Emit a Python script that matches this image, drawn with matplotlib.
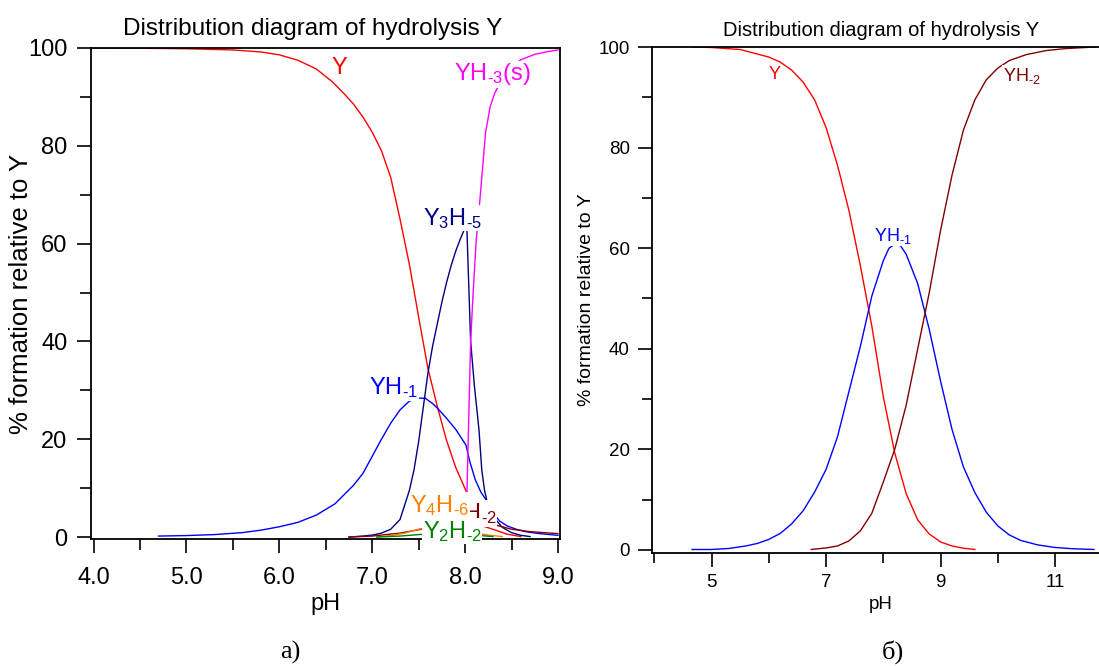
import numpy as np
import matplotlib
matplotlib.use("Agg")
import matplotlib.pyplot as plt
from matplotlib.ticker import MultipleLocator

plt.rcParams['font.family'] = ['Liberation Sans', 'DejaVu Sans']
plt.rcParams['mathtext.fontset'] = 'custom'
plt.rcParams['mathtext.rm'] = 'Liberation Sans'
plt.rcParams['mathtext.it'] = 'Liberation Sans'

# ---- panel a) data (read off the picture) ----
ph_y = [4.0, 4.5, 5.0, 5.5, 5.8, 6.0, 6.2, 6.4, 6.57, 6.7, 6.8, 6.9, 7.0, 7.1, 7.2, 7.3,
        7.4, 7.5, 7.6, 7.7, 7.8, 7.9, 8.02, 8.04, 8.2, 8.33, 8.45, 8.6]
val_y = [100, 99.95, 99.85, 99.6, 99.2, 98.6, 97.5, 95.7, 93.1, 90.6, 88.5, 85.9, 82.8, 79.0,
         73.5, 65.0, 55.8, 45.0, 34.5, 26.8, 19.8, 14.2, 9.0, 3.5, 2.2, 1.4, 0.6, 0.1]

ph_yh1 = [4.7, 5.0, 5.3, 5.6, 5.8, 6.0, 6.2, 6.4, 6.6, 6.8, 6.9, 7.0, 7.1, 7.2, 7.3, 7.4,
          7.5, 7.57, 7.65, 7.7, 7.8, 7.9, 8.01, 8.05, 8.11, 8.17, 8.24, 8.3, 8.37, 8.45,
          8.55, 8.65, 8.8, 9.0]
val_yh1 = [0.2, 0.3, 0.5, 0.9, 1.4, 2.1, 3.0, 4.5, 6.8, 10.6, 13.0, 16.5, 20.0, 23.3, 26.0,
           27.8, 28.4, 28.4, 27.3, 26.4, 24.3, 22.0, 18.8, 15.5, 11.7, 9.2, 7.2, 5.0, 3.3,
           2.3, 1.6, 1.1, 0.7, 0.35]

ph_y3h5 = [6.75, 6.9, 7.0, 7.1, 7.2, 7.3, 7.4, 7.45, 7.5, 7.55, 7.6, 7.65, 7.7, 7.75, 7.8,
           7.85, 7.9, 7.95, 7.99, 8.02, 8.06, 8.1, 8.15, 8.18, 8.21, 8.24, 8.3, 8.4, 8.5,
           8.6, 8.7]
val_y3h5 = [0.0, 0.2, 0.4, 0.8, 1.6, 3.6, 9.5, 13.7, 19.5, 26.5, 33.5, 39.0, 43.5, 48.0,
            52.0, 55.5, 58.5, 61.0, 62.8, 62.8, 40.0, 31.0, 21.9, 13.7, 9.5, 7.0, 4.2, 2.0,
            0.9, 0.35, 0.1]

ph_yh3s = [8.02, 8.06, 8.09, 8.12, 8.16, 8.22, 8.27, 8.32, 8.45, 8.6, 8.75, 8.9, 9.0]
val_yh3s = [9.0, 40.0, 51.0, 60.7, 69.0, 82.6, 88.0, 90.8, 95.3, 97.6, 98.7, 99.3, 99.6]

ph_yh2a = [6.75, 7.0, 7.3, 7.5, 7.7, 7.9, 8.1, 8.3, 8.5, 8.7, 9.0]
val_yh2a = [0.0, 0.2, 0.8, 1.5, 2.2, 2.8, 3.2, 2.6, 1.6, 1.1, 0.7]

ph_y4h6 = [7.05, 7.2, 7.35, 7.5, 7.7, 7.9, 8.05, 8.25, 8.4]
val_y4h6 = [0.0, 0.3, 0.8, 1.6, 2.5, 3.0, 1.0, 0.4, 0.1]

ph_y2h2 = [7.05, 7.3, 7.5, 7.7, 7.9, 8.1, 8.3]
val_y2h2 = [0.0, 0.2, 0.5, 0.8, 0.9, 0.4, 0.1]

# ---- panel б) data ----
ph_y_b = [4.66, 5.0, 5.5, 6.0, 6.2, 6.4, 6.6, 6.8, 7.0, 7.2, 7.4, 7.6, 7.8, 8.0, 8.2, 8.4,
          8.6, 8.8, 9.0, 9.2, 9.4, 9.6]
val_y_b = [100, 99.9, 99.5, 98.0, 97.0, 95.4, 93.0, 89.5, 84.0, 76.5, 67.5, 56.5, 44.5,
           30.5, 19.3, 11.2, 6.0, 3.2, 1.6, 0.8, 0.35, 0.1]

ph_yh1_b = [4.66, 5.0, 5.3, 5.6, 5.8, 6.0, 6.2, 6.4, 6.6, 6.8, 7.0, 7.2, 7.4, 7.6, 7.8,
            8.0, 8.1, 8.2, 8.3, 8.4, 8.6, 8.8, 9.0, 9.2, 9.4, 9.6, 9.8, 10.0, 10.2, 10.4,
            10.7, 11.0, 11.3, 11.68]
val_yh1_b = [0.1, 0.1, 0.3, 0.8, 1.3, 2.1, 3.3, 5.2, 7.8, 11.5, 16.0, 22.5, 31.5, 40.5,
             50.5, 57.5, 60.0, 60.8, 60.5, 58.8, 53.0, 44.0, 33.6, 24.0, 16.5, 11.4, 7.5,
             4.8, 3.0, 1.9, 1.0, 0.5, 0.25, 0.1]

ph_yh2_b = [6.74, 7.0, 7.2, 7.4, 7.6, 7.8, 8.0, 8.2, 8.4, 8.6, 8.8, 9.0, 9.2, 9.4, 9.6,
            9.8, 10.0, 10.2, 10.5, 10.85, 11.2, 11.7]
val_yh2_b = [0.1, 0.4, 0.8, 1.8, 3.8, 7.3, 13.5, 20.0, 28.8, 39.9, 51.0, 63.5, 74.5, 83.5,
             89.5, 93.5, 95.8, 97.3, 98.5, 99.3, 99.7, 100]

fig = plt.figure(figsize=(10.99, 6.66), dpi=100)

# ---------------- panel a) ----------------
ax1 = fig.add_axes([91 / 1099, 1 - 539 / 666, (560 - 91) / 1099, (539 - 48) / 666])
lw = 1.0
ax1.plot(ph_y, val_y, color='#ff0000', lw=lw)
ax1.plot(ph_yh1, val_yh1, color='#0000ff', lw=lw)
ax1.plot(ph_y3h5, val_y3h5, color='#000080', lw=lw)
ax1.plot(ph_yh3s, val_yh3s, color='#ff00ff', lw=lw)
ax1.plot(ph_yh2a, val_yh2a, color='#800000', lw=lw)
ax1.plot(ph_y4h6, val_y4h6, color='#ff8000', lw=lw)
ax1.plot(ph_y2h2, val_y2h2, color='#008000', lw=lw)

ax1.set_xlim(3.973, 9.022)
ax1.set_ylim(-0.4, 100)
ax1.set_xticks([4, 5, 6, 7, 8, 9])
ax1.set_xticklabels(['4.0', '5.0', '6.0', '7.0', '8.0', '9.0'])
ax1.xaxis.set_minor_locator(MultipleLocator(0.5))
ax1.set_yticks([0, 20, 40, 60, 80, 100])
ax1.yaxis.set_minor_locator(MultipleLocator(10))
ax1.tick_params(which='major', length=10, width=1.2, labelsize=17)
ax1.tick_params(axis='x', which='major', pad=10)
ax1.tick_params(axis='y', which='major', pad=7)
ax1.tick_params(which='minor', length=8, width=1.2)
for s in ax1.spines.values():
    s.set_linewidth(1.3)
ax1.set_xlabel('pH', fontsize=17, labelpad=3)
ax1.set_ylabel('% formation relative to Y', fontsize=18.5, labelpad=-3.5)
ax1.set_title('Distribution diagram of hydrolysis Y', fontsize=17.5, pad=9, x=0.472)

bb = dict(fc='white', ec='none', pad=0.5)
fs = 17
ax1.text(6.65, 95.9, 'Y', color='#ff0000', fontsize=fs, ha='center', va='center', bbox=bb, zorder=5)
ax1.text(8.29, 94.6, r'YH$_{\text{-3}}$(s)', color='#ff00ff', fontsize=fs, ha='center', va='center', bbox=bb, zorder=5)
ax1.text(7.86, 65.2, r'Y$_{\text{3}}$H$_{\text{-5}}$', color='#000080', fontsize=fs, ha='center', va='center', bbox=bb, zorder=5)
ax1.text(7.23, 30.5, r'YH$_{\text{-1}}$', color='#0000ff', fontsize=fs, ha='center', va='center', bbox=bb, zorder=5)
ax1.text(8.34, 4.8, r'YH$_{\text{-2}}$', color='#800000', fontsize=fs, ha='right', va='center', bbox=bb, zorder=5)
ax1.text(7.73, 6.5, r'Y$_{\text{4}}$H$_{\text{-6}}$', color='#ff8000', fontsize=fs, ha='center', va='center', bbox=bb, zorder=6)
ax1.text(7.86, 1.2, r'Y$_{\text{2}}$H$_{\text{-2}}$', color='#008000', fontsize=fs, ha='center', va='center', bbox=bb, zorder=7)

# ---------------- panel б) ----------------
ax2 = fig.add_axes([652 / 1099, 1 - 553 / 666, (1099 - 652) / 1099 + 0.01, (553 - 47) / 666])
ax2.plot(ph_y_b, val_y_b, color='#ff0000', lw=lw)
ax2.plot(ph_yh1_b, val_yh1_b, color='#0000ff', lw=lw)
ax2.plot(ph_yh2_b, val_yh2_b, color='#800000', lw=lw)

ax2.set_xlim(3.96, 11.96)
ax2.set_ylim(-0.6, 100)
ax2.set_xticks([5, 7, 9, 11])
ax2.xaxis.set_minor_locator(MultipleLocator(1))
ax2.set_yticks([0, 20, 40, 60, 80, 100])
ax2.yaxis.set_minor_locator(MultipleLocator(10))
ax2.tick_params(which='major', length=10, width=1.2, labelsize=13.5)
ax2.tick_params(axis='x', which='major', pad=5)
ax2.tick_params(axis='y', which='major', pad=6)
ax2.tick_params(which='minor', length=7, width=1.2)
for s in ax2.spines.values():
    s.set_linewidth(1.3)
ax2.set_xlabel('pH', fontsize=13.5, labelpad=4)
ax2.set_ylabel('% formation relative to Y', fontsize=14, labelpad=2.5)
ax2.set_title('Distribution diagram of hydrolysis Y', fontsize=14.5, pad=8)

fs2 = 13
ax2.text(6.10, 94.6, 'Y', color='#ff0000', fontsize=fs2, ha='center', va='center', bbox=bb, zorder=5)
ax2.text(8.17, 62.5, r'YH$_{\text{-1}}$', color='#0000ff', fontsize=fs2, ha='center', va='center', bbox=bb, zorder=5)
ax2.text(10.42, 94.2, r'YH$_{\text{-2}}$', color='#800000', fontsize=fs2, ha='center', va='center', bbox=bb, zorder=5)

# captions
fig.text(290 / 1099, 1 - 652 / 666, 'a)', fontsize=19, family='Liberation Serif', ha='center', va='center')
fig.text(893 / 1099, 1 - 652 / 666, 'б)', fontsize=19, family='Liberation Serif', ha='center', va='center')

fig.savefig('out.png', dpi=100)
